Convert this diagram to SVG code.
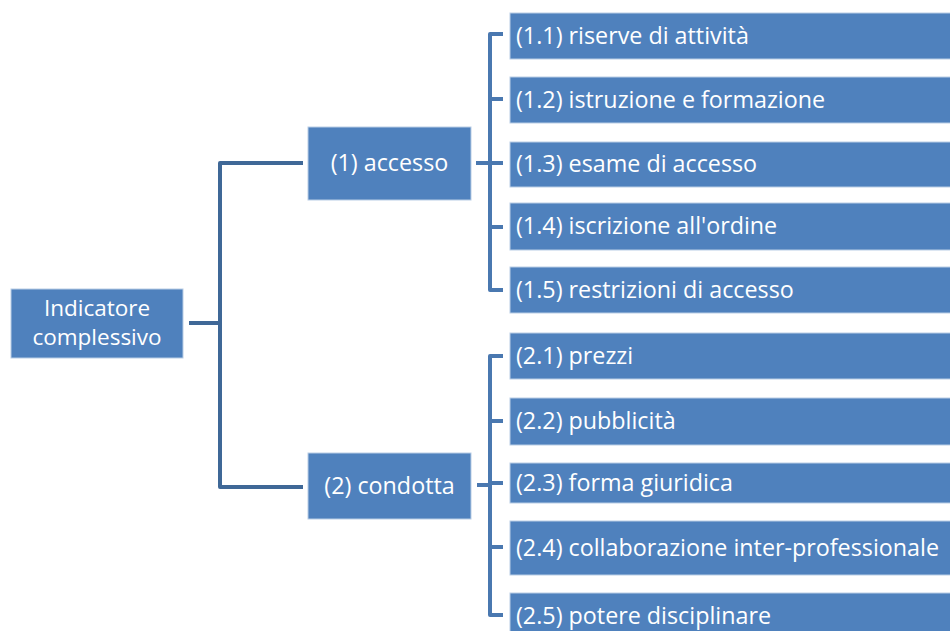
<svg xmlns="http://www.w3.org/2000/svg" width="950" height="631" viewBox="0 0 950 631">
<style>
.box{fill:#4f81bd;stroke:#b9cde5;stroke-width:1}
.t{font-family:"Open Sans","Liberation Sans",sans-serif;font-size:23.3px;fill:#ffffff}
.r{font-size:22.5px}
.c{text-anchor:middle}
.l1{fill:none;stroke:#3f6897;stroke-width:4;stroke-linejoin:round}
.l2{fill:none;stroke:#4a78b0;stroke-width:4;stroke-linejoin:round}
</style>
<rect width="950" height="631" fill="#ffffff"/>
<g id="connectors">
<path class="l1" d="M189 323H220"/>
<path class="l1" d="M303 163H220V487H303"/>
<path class="l2" d="M476 163H490"/>
<path class="l2" d="M503 34H490V290H503"/>
<path class="l2" d="M490 99H503M490 163H503M490 227H503"/>
<path class="l2" d="M477 485H490"/>
<path class="l2" d="M503 356H490V615H503"/>
<path class="l2" d="M490 421H503M490 483H503M490 547H503"/>
</g>
<g id="root"><rect class="box" x="11" y="289" width="172" height="69"/><text class="t r c" x="97" y="316">Indicatore</text><text class="t r c" x="97" y="345">complessivo</text></g>
<g id="n1"><rect class="box" x="308" y="127" width="163" height="73"/><text class="t c" x="389.5" y="171">(1) accesso</text></g>
<g id="n2"><rect class="box" x="308" y="453" width="163" height="66"/><text class="t c" x="389.5" y="494">(2) condotta</text></g>
<g id="n11"><rect class="box" x="510" y="13" width="441" height="46"/><text class="t" x="516" y="44">(1.1) riserve di attività</text></g>
<g id="n12"><rect class="box" x="510" y="77" width="441" height="46"/><text class="t" x="516" y="108">(1.2) istruzione e formazione</text></g>
<g id="n13"><rect class="box" x="510" y="142" width="441" height="45"/><text class="t" x="516" y="172">(1.3) esame di accesso</text></g>
<g id="n14"><rect class="box" x="510" y="203" width="441" height="47"/><text class="t" x="516" y="234">(1.4) iscrizione all'ordine</text></g>
<g id="n15"><rect class="box" x="510" y="267" width="441" height="46"/><text class="t" x="516" y="298">(1.5) restrizioni di accesso</text></g>
<g id="n21"><rect class="box" x="510" y="333" width="441" height="46"/><text class="t" x="516" y="364">(2.1) prezzi</text></g>
<g id="n22"><rect class="box" x="510" y="398" width="441" height="47"/><text class="t" x="516" y="429">(2.2) pubblicità</text></g>
<g id="n23"><rect class="box" x="510" y="463" width="441" height="40"/><text class="t" x="516" y="491">(2.3) forma giuridica</text></g>
<g id="n24"><rect class="box" x="510" y="521" width="441" height="54"/><text class="t" x="516" y="556">(2.4) collaborazione inter-professionale</text></g>
<g id="n25"><rect class="box" x="510" y="593" width="441" height="50"/><text class="t" x="516" y="624">(2.5) potere disciplinare</text></g>
</svg>
